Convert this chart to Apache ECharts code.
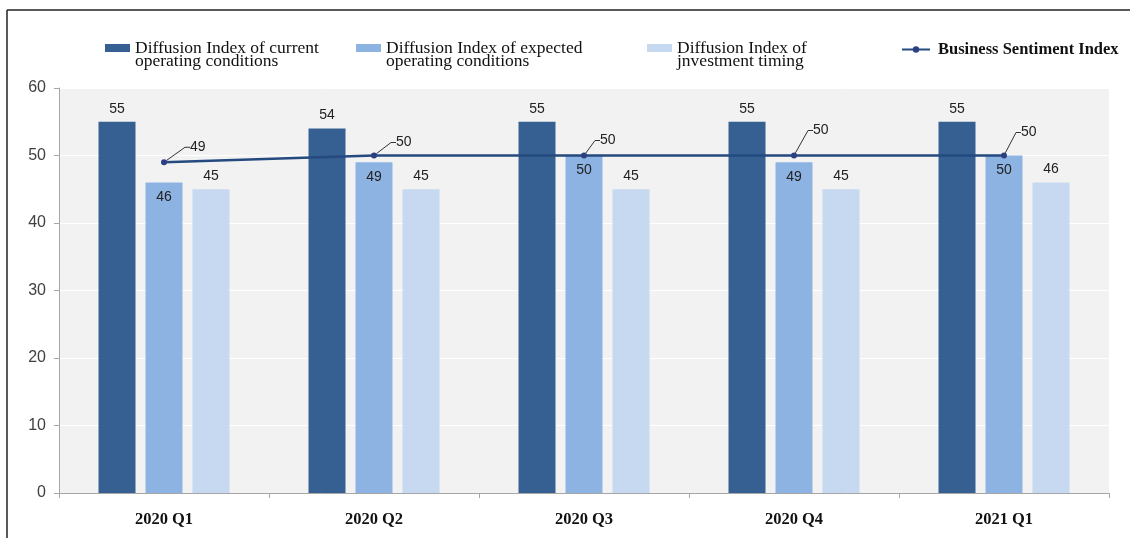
<!DOCTYPE html>
<html>
<head>
<meta charset="utf-8">
<script src="https://cdn.jsdelivr.net/npm/echarts@6/dist/echarts.min.js"></script>
<style>
  html, body { margin: 0; padding: 0; background: #ffffff; }
  #chart { width: 1130px; height: 538px; }
</style>
</head>
<body>
<div id="chart"></div>
<script>
// Quarterly diffusion indices and the overall business sentiment index
const quarters = ['2020 Q1', '2020 Q2', '2020 Q3', '2020 Q4', '2021 Q1'];
const currentConditions = [55, 54, 55, 55, 55];
const expectedConditions = [46, 49, 50, 49, 50];
const investmentTiming = [45, 45, 45, 45, 46];
const sentimentIndex = [49, 50, 50, 50, 50];

const seriesNames = [
  'Diffusion Index of current\noperating conditions',
  'Diffusion Index of expected\noperating conditions',
  'Diffusion Index of\njnvestment timing',
  'Business Sentiment Index'
];
const yMin = 0, yMax = 60, yStep = 10;

const colors = ['#376092', '#8db3e2', '#c6d9f1', '#244a80'];
const serif = 'Liberation Serif';
const sans = 'Liberation Sans';

// callout offsets for the sentiment labels, per quarter
const calloutDx = [18, 14, 8, 11, 9];
const calloutDy = [-15, -13, -15, -25, -23];

const chart = echarts.init(document.getElementById('chart'), null, { renderer: 'canvas' });

// legend entries for the bar series; a blank leading line keeps the
// icon level with the first text line
function barLegend(name, left) {
  return {
    data: [name],
    left: left,
    top: 26,
    padding: 0,
    itemWidth: 25,
    itemHeight: 8,
    icon: 'rect',
    selectedMode: false,
    formatter: n => '\n' + n,
    textStyle: {
      fontFamily: serif,
      fontSize: 17.5,
      lineHeight: 13,
      color: '#111'
    }
  };
}

const barLabelTop = {
  show: true,
  position: 'top',
  distance: 6,
  fontFamily: sans,
  fontSize: 14,
  color: '#222'
};

const option = {
  animation: false,
  backgroundColor: '#ffffff',
  graphic: [
    { type: 'line', shape: { x1: 7, y1: 10, x2: 1130, y2: 10 }, style: { stroke: '#222', lineWidth: 1.5 } },
    { type: 'line', shape: { x1: 7, y1: 10, x2: 7, y2: 538 }, style: { stroke: '#222', lineWidth: 1.5 } }
  ],
  legend: [
    barLegend(seriesNames[0], 105),
    barLegend(seriesNames[1], 356),
    barLegend(seriesNames[2], 647),
    {
      data: [seriesNames[3]],
      left: 901,
      top: 41,
      padding: 0,
      itemWidth: 28,
      itemHeight: 8,
      selectedMode: false,
      textStyle: {
        fontFamily: serif,
        fontSize: 16.5,
        fontWeight: 'bold',
        lineHeight: 16,
        color: '#111',
        padding: [0, 0, 0, 3]
      }
    }
  ],
  grid: {
    left: 59,
    right: 21,
    top: 88,
    bottom: 45,
    show: true,
    backgroundColor: '#f2f2f2',
    borderWidth: 0
  },
  xAxis: {
    type: 'category',
    data: quarters,
    boundaryGap: true,
    axisLine: { show: true, lineStyle: { color: '#a6a6a6', width: 1 } },
    axisTick: { show: true, length: 5, inside: false, alignWithLabel: false, lineStyle: { color: '#a6a6a6' } },
    axisLabel: {
      margin: 18,
      fontFamily: serif,
      fontSize: 16.5,
      fontWeight: 'bold',
      color: '#111'
    },
    splitLine: { show: false }
  },
  yAxis: {
    type: 'value',
    min: yMin,
    max: yMax,
    interval: yStep,
    axisLine: { show: true, lineStyle: { color: '#a6a6a6', width: 1 } },
    axisTick: { show: true, length: 5, inside: false, lineStyle: { color: '#a6a6a6' } },
    axisLabel: {
      margin: 13,
      fontFamily: sans,
      fontSize: 16,
      color: '#404040'
    },
    splitLine: { show: true, lineStyle: { color: '#ffffff', width: 1 } }
  },
  series: [
    {
      name: seriesNames[0],
      type: 'bar',
      data: currentConditions,
      barWidth: 37,
      barGap: '27%',
      itemStyle: { color: colors[0] },
      label: barLabelTop,
      z: 2
    },
    {
      name: seriesNames[1],
      type: 'bar',
      data: expectedConditions,
      barWidth: 37,
      barGap: '27%',
      itemStyle: { color: colors[1] },
      label: {
        show: true,
        position: 'insideTop',
        distance: 8,
        fontFamily: sans,
        fontSize: 14,
        color: '#222'
      },
      z: 2
    },
    {
      name: seriesNames[2],
      type: 'bar',
      data: investmentTiming,
      barWidth: 37,
      barGap: '27%',
      itemStyle: { color: colors[2] },
      label: barLabelTop,
      z: 2
    },
    {
      name: seriesNames[3],
      type: 'line',
      data: sentimentIndex,
      symbol: 'circle',
      symbolSize: 6,
      lineStyle: { color: colors[3], width: 2.5 },
      itemStyle: { color: '#2c3f82' },
      label: {
        show: true,
        position: 'right',
        distance: 5,
        fontFamily: sans,
        fontSize: 14,
        color: '#222'
      },
      labelLayout: p => ({ dx: calloutDx[p.dataIndex], dy: calloutDy[p.dataIndex] }),
      labelLine: { show: true, length2: 5, lineStyle: { color: '#333', width: 1 } },
      z: 5
    }
  ]
};

chart.setOption(option);
</script>
</body>
</html>
